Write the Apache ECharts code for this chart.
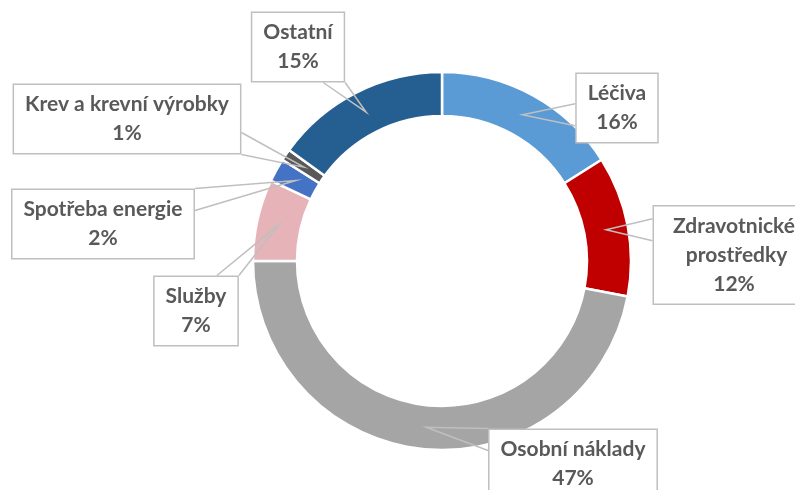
<!DOCTYPE html>
<html>
<head>
<meta charset="utf-8">
<script src="https://cdn.jsdelivr.net/npm/echarts@6/dist/echarts.min.js"></script>
<style>
html, body { margin: 0; background: #ffffff; }
#chartPieBox { width: 795px; height: 490px; }
</style>
</head>
<body>
<div id="chartPieBox"></div>
<script>
// data
var categories = ["Léčiva", "Zdravotnické prostředky", "Osobní náklady", "Služby", "Spotřeba energie", "Krev a krevní výrobky", "Ostatní"];
var shares = [16, 12, 47, 7, 2, 1, 15];
var colors = ["#5B9BD5", "#C00000", "#A5A5A5", "#E6B4B8", "#4472C4", "#595959", "#255E91"];

// layout: ring centre / radii (px) and callout box centres
var CX = 442, CY = 261, R_IN = 145, R_OUT = 189;
var boxPos = [[617, 108], [734, 255], [573, 464], [196, 311], [103, 224], [127, 119], [298, 47]];

var total = shares.reduce(function (a, b) { return a + b; }, 0);

// point in the middle of the ring, at the middle angle of slice i
function tipPoint(i) {
  var before = 0;
  for (var k = 0; k < i; k++) before += shares[k];
  var ang = (before + shares[i] / 2) / total * 2 * Math.PI;
  var rm = (R_IN + R_OUT) / 2;
  return [CX + rm * Math.sin(ang), CY - rm * Math.cos(ang)];
}
function clamp(v, a, b) { return Math.max(a, Math.min(b, v)); }

var ringData = categories.map(function (name, i) {
  return { name: name, value: shares[i], itemStyle: { color: colors[i] } };
});
var calloutData = categories.map(function (name, i) {
  var item = { name: name, value: shares[i] };
  if (name.indexOf("prost") > 0) {
    item.label = { width: 138, overflow: "break" };
  }
  return item;
});

var option = {
  animation: false,
  backgroundColor: "#ffffff",
  series: [
    {
      // coloured ring
      type: "pie",
      z: 2,
      center: [CX, CY],
      radius: [R_IN, R_OUT],
      startAngle: 90,
      clockwise: true,
      silent: true,
      itemStyle: { borderColor: "#ffffff", borderWidth: 2.5 },
      label: { show: false },
      labelLine: { show: false },
      data: ringData
    },
    {
      // invisible copy on top, carries the callouts
      type: "pie",
      z: 5,
      center: [CX, CY],
      radius: [R_IN, R_OUT],
      startAngle: 90,
      clockwise: true,
      silent: true,
      avoidLabelOverlap: false,
      percentPrecision: 0,
      itemStyle: { color: "rgba(0,0,0,0)", borderWidth: 0 },
      label: {
        show: true,
        position: "outside",
        formatter: "{b}\n{d}%",
        fontFamily: "Lato",
        fontWeight: "bold",
        fontSize: 21,
        lineHeight: 29,
        color: "#595959",
        backgroundColor: "#ffffff",
        borderColor: "#BFBFBF",
        borderWidth: 1.5,
        padding: [5, 11]
      },
      labelLine: {
        show: true,
        smooth: false,
        lineStyle: { color: "#BFBFBF", width: 1.5 }
      },
      labelLayout: function (params) {
        var i = params.dataIndex;
        var p = boxPos[i];
        var w = params.labelRect.width, h = params.labelRect.height;
        var tip = tipPoint(i);
        var left = p[0] - w / 2, top = p[1] - h / 2;
        var rx = (tip[0] - p[0]) / (w / 2), ry = (tip[1] - p[1]) / (h / 2);
        var s = 11, a, b;
        if (Math.abs(rx) > Math.abs(ry)) {
          var ex = rx > 0 ? left + w : left;
          var yy = clamp(tip[1], top + s, top + h - s);
          a = [ex, yy - s]; b = [ex, yy + s];
        } else {
          var ey = ry > 0 ? top + h : top;
          var xx = clamp(tip[0], left + s, left + w - s);
          a = [xx - s, ey]; b = [xx + s, ey];
        }
        return {
          x: p[0],
          y: p[1],
          align: "center",
          verticalAlign: "middle",
          labelLinePoints: [a, tip, b]
        };
      },
      data: calloutData
    }
  ]
};

var chartPie = echarts.init(document.getElementById("chartPieBox"));
chartPie.setOption(option);
</script>
</body>
</html>
